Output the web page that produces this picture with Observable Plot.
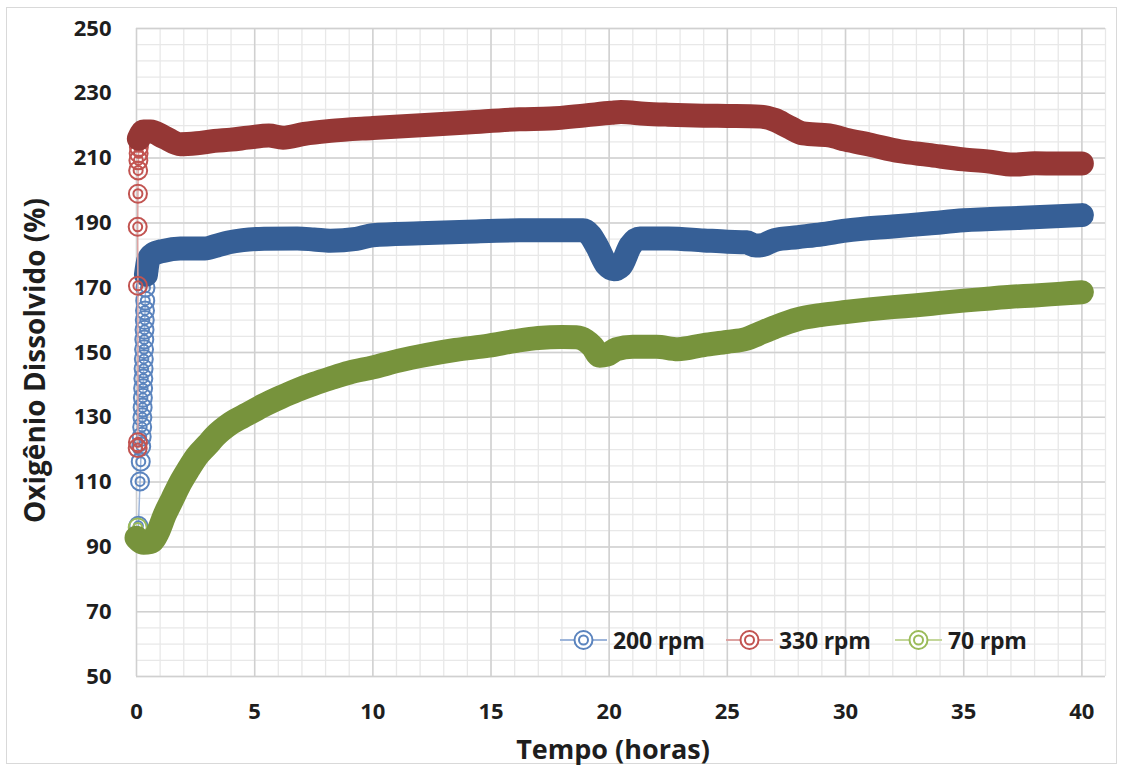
<!DOCTYPE html>
<html>
<head>
<meta charset="utf-8">
<script src="https://cdn.jsdelivr.net/npm/d3@7"></script>
<script src="https://cdn.jsdelivr.net/npm/@observablehq/plot@0.6"></script>
<style>
  html, body { margin: 0; padding: 0; background: #fff; }
  #wrap { position: relative; width: 1130px; height: 771px; overflow: hidden; font-family: "Open Sans", sans-serif; }
  #wrap svg.plot { position: absolute; left: 0; top: 0; }
  #frame { position: absolute; left: 6px; top: 7px; width: 1111px; height: 757px; border: 1px solid #d9d9d9; box-sizing: border-box; pointer-events: none; }
  .leg { position: absolute; top: 626px; height: 28px; display: flex; align-items: center; font-size: 23px; font-weight: 700; color: #1e1e1e; white-space: nowrap; letter-spacing: -0.2px; }
  .leg svg { margin-right: 6px; }
</style>
</head>
<body>
<div id="wrap"><div id="frame"></div></div>
<script>
// ---- tick labels ----
const xTicks = [0, 5, 10, 15, 20, 25, 30, 35, 40];
const yTicks = [50, 70, 90, 110, 130, 150, 170, 190, 210, 230, 250];
const xMinor = d3.range(0, 42, 1);
const yMinor = d3.range(50, 251, 5);

// ---- series names ----
const seriesNames = ["200 rpm", "330 rpm", "70 rpm"];

// ---- 200 rpm (blue) ----
const ringT200 = [0.08, 0.15, 0.18, 0.20, 0.22, 0.24, 0.25, 0.26, 0.27, 0.28, 0.29, 0.30, 0.31, 0.32, 0.33, 0.34, 0.35, 0.36, 0.37, 0.38, 0.40];
const ringV200 = [96.5, 110.2, 116.3, 121, 124, 127, 130, 133, 136, 139, 142, 145, 148, 151, 154, 157, 160, 163, 166, 170, 174];
const t200 = [0.40, 0.50, 0.70, 1.15, 1.85, 2.9, 3.4, 3.9, 4.5, 5.4, 6.8, 7.5, 8.2, 9.3, 10, 12, 14, 16.2, 18.9, 19.2, 19.5, 19.9, 20.2, 20.5, 20.9, 21.3, 22.5, 24, 25, 25.8, 26.2, 26.5, 27, 28, 29, 30, 32, 33.5, 35, 37.5, 40];
const v200 = [174, 178.5, 180.3, 181.4, 182.1, 182.1, 183, 184, 184.7, 185.1, 185.2, 184.9, 184.5, 185.1, 186.2, 186.8, 187.3, 187.7, 187.7, 186.2, 182.6, 177, 175.7, 176.8, 183, 185.2, 185.2, 184.6, 184.2, 184, 183, 183.2, 184.7, 185.6, 186.5, 187.6, 188.9, 189.8, 190.8, 191.6, 192.4];

// ---- 330 rpm (red) ----
const ringT330 = [0.05, 0.06, 0.06, 0.05, 0.06, 0.07, 0.08, 0.09, 0.10, 0.12];
const ringV330 = [120.5, 122.3, 170.6, 188.8, 199, 206.2, 209.3, 211.5, 213.4, 215.5];
const t330 = [0.10, 0.3, 0.6, 1.15, 1.85, 2.55, 3.3, 4.0, 4.7, 5.6, 6.2, 7.1, 8.2, 10, 12.4, 14, 16.2, 17.5, 19, 20.1, 20.5, 21.5, 22.5, 24, 25, 26.4, 27, 27.6, 28.2, 29.3, 30, 31, 32.3, 33.5, 35, 36, 37.1, 38, 39, 40];
const v330 = [216, 218.2, 218.2, 216.5, 214.3, 214.6, 215.3, 215.7, 216.3, 217, 216.3, 217.5, 218.4, 219.3, 220.3, 221, 222, 222.2, 223.2, 224, 224.2, 223.7, 223.4, 223.1, 223, 222.8, 221.8, 219.6, 217.6, 217, 215.7, 214.2, 212.1, 211, 209.6, 209, 208, 208.4, 208.3, 208.3];

// ---- 70 rpm (green) ----
const ringT70 = [0.05];
const ringV70 = [96];
const t70 = [0, 0.3, 0.6, 0.9, 1.2, 1.5, 1.85, 2.2, 2.55, 3.0, 3.3, 4.0, 4.7, 5.4, 6.1, 6.8, 7.5, 8.2, 9, 10, 11.1, 12.3, 13.5, 14.9, 16, 17, 18, 18.6, 19, 19.3, 19.6, 19.9, 20.3, 21, 22, 22.9, 24, 25, 25.8, 26.3, 27, 28, 29, 30, 31, 32, 33, 34, 35, 36, 37, 38, 39, 40];
const v70 = [92.8, 91.3, 91.5, 94.5, 100, 104.5, 109.7, 114, 117.9, 121.5, 124, 128.2, 131, 133.8, 136.2, 138.4, 140.3, 142, 143.8, 145.4, 147.5, 149.3, 150.8, 152.1, 153.5, 154.5, 154.8, 154.7, 153.7, 151.8, 149, 149.3, 151, 151.8, 151.8, 151, 152.3, 153.3, 154.2, 155.7, 157.8, 160.3, 161.6, 162.5, 163.3, 164, 164.6, 165.3, 166, 166.6, 167.2, 167.6, 168.1, 168.6];

const bandColors = ["#365F96", "#953735", "#77933C"];
const ringColors = ["#5B84BE", "#C25451", "#9BBB59"];
const lineColors = ["#9DB5DA", "#DDA3A2", "#C4D79B"];

const rows = (ts, vs) => ts.map((t, i) => ({t, v: vs[i]}));
const main = [rows(t200, v200), rows(t330, v330), rows(t70, v70)];
const rings = [rows(ringT200, ringV200), rows(ringT330, ringV330), rows(ringT70, ringV70)];

const FONT = "Open Sans";
const marks = [
  Plot.ruleX(xMinor, {stroke: "#e8e8e8", strokeWidth: 1.3}),
  Plot.ruleY(yMinor, {stroke: "#e8e8e8", strokeWidth: 1.3}),
  Plot.ruleX(xTicks, {stroke: "#d0d0d0", strokeWidth: 1.5}),
  Plot.ruleY(yTicks, {stroke: "#d0d0d0", strokeWidth: 1.5}),
  Plot.axisX({ticks: xTicks, tickSize: 0, tickPadding: 27, fontSize: 22, fontWeight: 700, fill: "#1e1e1e", label: null, fontFamily: FONT}),
  Plot.axisY({ticks: yTicks, tickSize: 0, tickPadding: 25, fontSize: 22, fontWeight: 700, fill: "#1e1e1e", label: null, fontFamily: FONT}),
  Plot.text(["Tempo (horas)"], {frameAnchor: "bottom", dx: -8, dy: 74, fontSize: 27, fontWeight: 700, fill: "#1e1e1e", fontFamily: FONT, lineAnchor: "middle"}),
  Plot.text(["Oxigênio Dissolvido (%)"], {frameAnchor: "left", dx: -100, dy: 8, rotate: -90, fontSize: 28, fontWeight: 700, fill: "#1e1e1e", fontFamily: FONT, lineAnchor: "middle", textAnchor: "middle"})
];
for (let k = 0; k < 3; k++) {
  marks.push(
    Plot.line(rings[k], {x: "t", y: "v", stroke: lineColors[k], strokeWidth: 1.5}),
    Plot.dot(rings[k], {x: "t", y: "v", r: 9, stroke: ringColors[k], strokeWidth: 2, fill: "none"}),
    Plot.dot(rings[k], {x: "t", y: "v", r: 4.5, stroke: ringColors[k], strokeWidth: 2, fill: "none"}),
    Plot.line(main[k], {x: "t", y: "v", stroke: bandColors[k], strokeWidth: 24, strokeLinecap: "round", strokeLinejoin: "round", curve: "monotone-x"})
  );
}

const chart = Plot.plot({
  width: 1130,
  height: 771,
  marginLeft: 136,
  marginRight: 25,
  marginTop: 28,
  marginBottom: 95,
  style: {fontFamily: FONT, background: "transparent"},
  x: {domain: [0, 41]},
  y: {domain: [50, 250]},
  marks
});
chart.classList.add("plot");
const wrap = document.getElementById("wrap");
wrap.appendChild(chart);

// legend (HTML, over the plot area)
const legLeft = [560, 726, 895];
seriesNames.forEach((name, k) => {
  const d = document.createElement("div");
  d.className = "leg";
  d.style.left = legLeft[k] + "px";
  const c = ringColors[k], l = lineColors[k];
  d.innerHTML = `<svg width="47" height="28"><line x1="0" y1="14" x2="47" y2="14" stroke="${l}" stroke-width="2"/><circle cx="23.5" cy="14" r="9" fill="white" stroke="${c}" stroke-width="2"/><circle cx="23.5" cy="14" r="4.5" fill="none" stroke="${c}" stroke-width="2"/></svg><span>${name}</span>`;
  wrap.appendChild(d);
});
</script>
</body>
</html>
